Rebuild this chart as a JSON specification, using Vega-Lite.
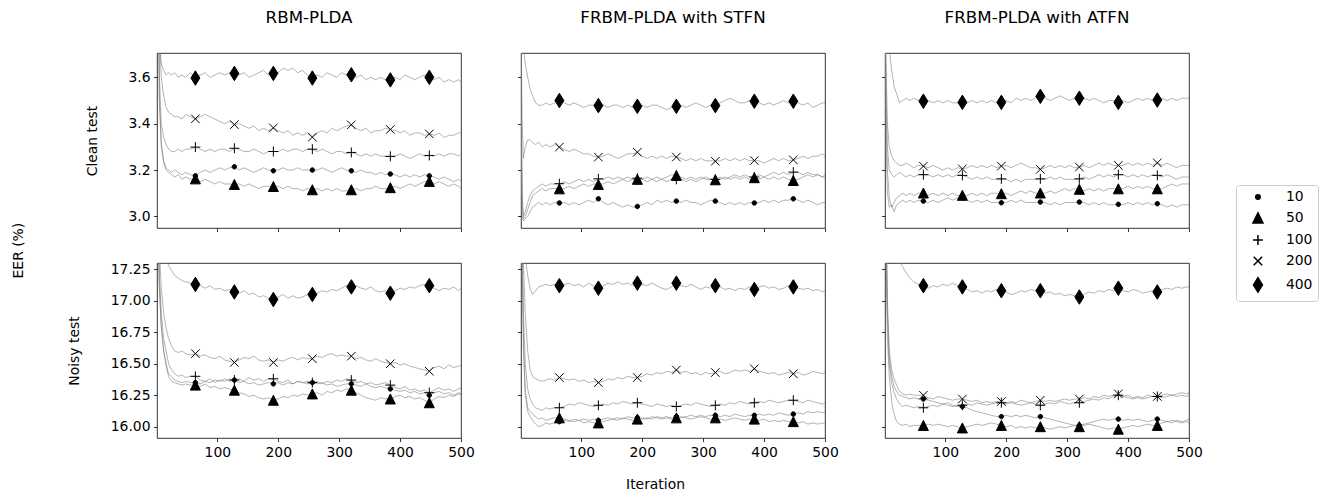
{
  "$schema": "https://vega.github.io/schema/vega-lite/v6.json",
  "background": "white",
  "padding": {"left": 11, "top": 9, "right": 5, "bottom": 2},
  "title": {"text": "EER (%)", "orient": "left", "anchor": "middle", "frame": "bounds", "fontSize": 13.9, "offset": 30, "baseline": "alphabetic"},
  "datasets": {
    "d": [
      {"p": "A",
       "i": [1,3,5,8,12,16,20,25,30,36,42,48,56,64,72,80,88,96,104,112,120,128,136,144,152,160,168,176,184,192,200,208,216,224,232,240,248,256,264,272,280,288,296,304,312,320,328,336,344,352,360,368,376,384,392,400,408,416,424,432,440,448,456,464,472,480,488,496,500],
       "400": [4.5,4.0,3.75,3.66,3.63,3.61,3.62,3.61,3.62,3.6,3.61,3.6,3.62, 3.597, 3.61,3.62,3.6,3.61,3.62,3.61,3.62, 3.617, 3.61,3.62,3.6,3.61,3.62,3.63,3.61, 3.617, 3.62,3.64,3.63,3.64,3.62,3.63,3.61, 3.597, 3.61,3.6,3.62,3.61,3.6,3.62,3.61, 3.611, 3.6,3.61,3.59,3.6,3.59,3.6,3.59, 3.589, 3.6,3.59,3.61,3.6,3.59,3.6,3.61, 3.6, 3.59,3.6,3.58,3.59,3.58,3.59,3.58],
       "200": [5.0,4.2,3.8,3.6,3.52,3.47,3.45,3.44,3.43,3.43,3.42,3.44,3.43, 3.421, 3.43,3.44,3.43,3.42,3.41,3.4,3.41, 3.396, 3.4,3.39,3.38,3.39,3.37,3.38,3.37, 3.382, 3.37,3.36,3.37,3.35,3.36,3.35,3.36, 3.342, 3.36,3.37,3.36,3.38,3.37,3.38,3.39, 3.395, 3.38,3.37,3.38,3.36,3.37,3.37,3.38, 3.375, 3.37,3.36,3.37,3.35,3.36,3.36,3.35, 3.356, 3.35,3.36,3.34,3.35,3.35,3.36,3.36],
       "100": [5.0,4.0,3.6,3.4,3.34,3.31,3.29,3.28,3.28,3.29,3.28,3.29,3.29, 3.299, 3.29,3.28,3.29,3.28,3.29,3.29,3.28, 3.294, 3.29,3.28,3.28,3.29,3.28,3.27,3.28, 3.28, 3.28,3.29,3.28,3.29,3.29,3.28,3.29, 3.29, 3.28,3.29,3.28,3.27,3.28,3.28,3.27, 3.276, 3.27,3.26,3.27,3.26,3.27,3.26,3.26, 3.259, 3.26,3.27,3.26,3.25,3.26,3.27,3.26, 3.263, 3.26,3.27,3.26,3.27,3.27,3.26,3.27],
       "10": [5.0,4.0,3.5,3.32,3.24,3.21,3.2,3.19,3.2,3.19,3.18,3.19,3.18, 3.175, 3.19,3.2,3.19,3.2,3.21,3.2,3.21, 3.214, 3.2,3.21,3.2,3.19,3.2,3.21,3.2, 3.197, 3.2,3.21,3.2,3.2,3.21,3.2,3.2, 3.2, 3.2,3.21,3.2,3.19,3.2,3.21,3.2, 3.197, 3.19,3.2,3.19,3.19,3.18,3.19,3.18, 3.183, 3.18,3.17,3.18,3.17,3.18,3.17,3.18, 3.175, 3.17,3.16,3.17,3.16,3.15,3.16,3.15],
       "50": [5.0,4.0,3.5,3.3,3.23,3.2,3.19,3.18,3.17,3.18,3.16,3.17,3.16, 3.162, 3.15,3.16,3.15,3.14,3.15,3.14,3.14, 3.138, 3.14,3.13,3.14,3.13,3.12,3.13,3.13, 3.129, 3.13,3.12,3.13,3.12,3.12,3.11,3.12, 3.115, 3.12,3.11,3.12,3.11,3.12,3.11,3.11, 3.115, 3.12,3.11,3.12,3.12,3.13,3.12,3.12, 3.124, 3.13,3.12,3.13,3.14,3.13,3.14,3.15, 3.151, 3.14,3.15,3.14,3.13,3.14,3.13,3.12]},
      {"p": "B",
       "i": [1,3,5,8,12,16,20,25,30,36,42,48,56,64,72,80,88,96,104,112,120,128,136,144,152,160,168,176,184,192,200,208,216,224,232,240,248,256,264,272,280,288,296,304,312,320,328,336,344,352,360,368,376,384,392,400,408,416,424,432,440,448,456,464,472,480,488,496,500],
       "400": [3.9,3.8,3.72,3.66,3.6,3.55,3.52,3.49,3.48,3.48,3.49,3.48,3.49, 3.5, 3.49,3.48,3.49,3.48,3.47,3.48,3.48, 3.478, 3.48,3.47,3.48,3.48,3.47,3.48,3.47, 3.475, 3.48,3.47,3.48,3.48,3.47,3.46,3.47, 3.475, 3.48,3.47,3.48,3.49,3.48,3.47,3.48, 3.478, 3.49,3.5,3.51,3.5,3.49,3.49,3.5, 3.497, 3.49,3.48,3.49,3.48,3.49,3.5,3.49, 3.497, 3.49,3.48,3.49,3.47,3.48,3.49,3.49],
       "200": [3.8,3.4,3.25,3.3,3.33,3.33,3.32,3.31,3.32,3.3,3.31,3.3,3.31, 3.299, 3.29,3.28,3.29,3.28,3.27,3.27,3.26, 3.256, 3.26,3.27,3.26,3.25,3.26,3.27,3.27, 3.277, 3.26,3.25,3.26,3.25,3.26,3.25,3.26, 3.256, 3.25,3.24,3.25,3.24,3.25,3.24,3.24, 3.238, 3.24,3.25,3.24,3.25,3.24,3.25,3.24, 3.241, 3.24,3.23,3.24,3.25,3.24,3.25,3.24, 3.244, 3.25,3.26,3.25,3.26,3.26,3.27,3.26],
       "100": [3.6,3.1,3.0,3.02,3.06,3.09,3.11,3.12,3.13,3.14,3.13,3.14,3.14, 3.141, 3.15,3.14,3.15,3.16,3.15,3.16,3.15, 3.162, 3.16,3.17,3.16,3.17,3.16,3.17,3.16, 3.165, 3.16,3.15,3.16,3.15,3.16,3.15,3.16, 3.16, 3.16,3.15,3.16,3.15,3.16,3.17,3.16, 3.16, 3.17,3.16,3.17,3.18,3.17,3.18,3.17, 3.17, 3.18,3.17,3.18,3.19,3.18,3.19,3.18, 3.191, 3.19,3.18,3.19,3.18,3.18,3.17,3.18],
       "50": [3.5,3.05,2.99,3.0,3.03,3.06,3.09,3.1,3.11,3.12,3.11,3.12,3.12, 3.119, 3.12,3.13,3.12,3.13,3.14,3.13,3.14, 3.138, 3.14,3.15,3.14,3.15,3.16,3.15,3.16, 3.16, 3.16,3.17,3.16,3.17,3.16,3.17,3.18, 3.177, 3.17,3.16,3.17,3.16,3.17,3.16,3.16, 3.158, 3.16,3.17,3.16,3.17,3.16,3.17,3.16, 3.167, 3.16,3.17,3.16,3.17,3.16,3.17,3.16, 3.155, 3.16,3.17,3.18,3.17,3.18,3.17,3.17],
       "10": [3.4,3.0,2.98,2.99,3.0,3.02,3.04,3.05,3.06,3.05,3.06,3.05,3.06, 3.058, 3.06,3.05,3.06,3.05,3.06,3.07,3.06, 3.076, 3.06,3.05,3.06,3.05,3.04,3.05,3.04, 3.043, 3.05,3.06,3.05,3.07,3.06,3.07,3.06, 3.066, 3.06,3.07,3.06,3.06,3.05,3.06,3.07, 3.066, 3.06,3.05,3.06,3.05,3.06,3.05,3.06, 3.058, 3.06,3.07,3.06,3.07,3.06,3.07,3.07, 3.076, 3.07,3.06,3.07,3.06,3.05,3.06,3.06]},
      {"p": "C",
       "i": [1,3,5,8,12,16,20,25,30,36,42,48,56,64,72,80,88,96,104,112,120,128,136,144,152,160,168,176,184,192,200,208,216,224,232,240,248,256,264,272,280,288,296,304,312,320,328,336,344,352,360,368,376,384,392,400,408,416,424,432,440,448,456,464,472,480,488,496,500],
       "400": [4.2,3.9,3.8,3.72,3.63,3.56,3.53,3.49,3.5,3.51,3.5,3.51,3.5, 3.497, 3.5,3.49,3.5,3.49,3.5,3.49,3.49, 3.492, 3.49,3.5,3.49,3.5,3.49,3.5,3.49, 3.492, 3.5,3.49,3.51,3.5,3.51,3.5,3.51, 3.518, 3.51,3.5,3.51,3.52,3.51,3.5,3.51, 3.51, 3.51,3.5,3.51,3.5,3.49,3.5,3.5, 3.492, 3.5,3.49,3.5,3.51,3.5,3.51,3.5, 3.502, 3.51,3.5,3.51,3.5,3.51,3.51,3.51],
       "200": [4.0,3.6,3.4,3.3,3.26,3.24,3.23,3.22,3.22,3.23,3.22,3.21,3.22, 3.217, 3.21,3.22,3.21,3.2,3.21,3.2,3.21, 3.205, 3.21,3.22,3.21,3.22,3.21,3.22,3.21, 3.217, 3.22,3.21,3.22,3.23,3.22,3.21,3.21, 3.203, 3.21,3.22,3.21,3.22,3.21,3.22,3.21, 3.213, 3.22,3.21,3.22,3.23,3.22,3.23,3.22, 3.22, 3.22,3.23,3.22,3.23,3.22,3.23,3.22, 3.231, 3.22,3.23,3.22,3.21,3.22,3.22,3.22],
       "100": [4.0,3.5,3.3,3.2,3.18,3.17,3.18,3.19,3.18,3.17,3.18,3.17,3.18, 3.18, 3.18,3.17,3.18,3.17,3.18,3.17,3.18, 3.177, 3.17,3.16,3.17,3.16,3.17,3.16,3.16, 3.162, 3.16,3.15,3.16,3.15,3.16,3.16,3.16, 3.162, 3.16,3.17,3.16,3.17,3.16,3.16,3.16, 3.162, 3.17,3.16,3.17,3.18,3.17,3.18,3.17, 3.18, 3.18,3.17,3.18,3.17,3.18,3.17,3.18, 3.177, 3.17,3.18,3.17,3.16,3.17,3.17,3.17],
       "50": [3.9,3.4,3.2,3.08,3.04,3.06,3.08,3.09,3.1,3.09,3.1,3.09,3.1, 3.101, 3.09,3.1,3.09,3.1,3.09,3.1,3.09, 3.091, 3.09,3.1,3.09,3.1,3.09,3.1,3.1, 3.098, 3.1,3.09,3.1,3.11,3.1,3.11,3.1, 3.101, 3.1,3.11,3.1,3.11,3.12,3.11,3.12, 3.117, 3.11,3.12,3.11,3.12,3.11,3.12,3.12, 3.119, 3.12,3.13,3.12,3.13,3.12,3.13,3.12, 3.119, 3.12,3.13,3.14,3.13,3.14,3.14,3.14],
       "10": [3.9,3.3,3.1,3.04,3.05,3.02,3.05,3.06,3.07,3.06,3.07,3.06,3.07, 3.066, 3.06,3.07,3.06,3.07,3.08,3.07,3.08, 3.081, 3.07,3.06,3.07,3.06,3.07,3.06,3.06, 3.059, 3.06,3.07,3.06,3.07,3.06,3.06,3.06, 3.062, 3.06,3.05,3.06,3.05,3.06,3.06,3.06, 3.062, 3.06,3.05,3.06,3.05,3.06,3.05,3.05, 3.052, 3.05,3.06,3.05,3.06,3.05,3.06,3.05, 3.055, 3.05,3.04,3.05,3.04,3.05,3.05,3.05]},
      {"p": "D",
       "i": [1,3,5,8,12,16,20,25,30,36,42,48,56,64,72,80,88,96,104,112,120,128,136,144,152,160,168,176,184,192,200,208,216,224,232,240,248,256,264,272,280,288,296,304,312,320,328,336,344,352,360,368,376,384,392,400,408,416,424,432,440,448,456,464,472,480,488,496,500],
       "400": [18.5,18.0,17.7,17.5,17.4,17.33,17.28,17.24,17.2,17.18,17.16,17.15,17.14, 17.13, 17.12,17.1,17.12,17.09,17.1,17.08,17.09, 17.07, 17.06,17.08,17.05,17.06,17.03,17.04,17.02, 17.01, 17.03,17.05,17.02,17.04,17.02,17.03,17.05, 17.05, 17.06,17.08,17.07,17.09,17.08,17.1,17.12, 17.11, 17.12,17.1,17.09,17.11,17.08,17.07,17.08, 17.06, 17.08,17.1,17.09,17.11,17.1,17.12,17.13, 17.12, 17.1,17.08,17.1,17.09,17.11,17.08,17.1],
       "200": [18.5,17.8,17.4,17.1,16.9,16.78,16.7,16.64,16.6,16.59,16.6,16.58,16.57, 16.58, 16.56,16.57,16.55,16.54,16.56,16.53,16.52, 16.51, 16.53,16.55,16.54,16.56,16.53,16.52,16.53, 16.51, 16.53,16.52,16.54,16.55,16.53,16.55,16.54, 16.54, 16.56,16.55,16.57,16.58,16.56,16.57,16.56, 16.56, 16.54,16.55,16.53,16.52,16.54,16.52,16.51, 16.5, 16.51,16.49,16.5,16.48,16.47,16.46,16.45, 16.44, 16.47,16.48,16.46,16.49,16.47,16.48,16.49],
       "100": [18.5,17.6,17.2,16.9,16.7,16.6,16.5,16.45,16.42,16.4,16.41,16.39,16.4, 16.4, 16.37,16.36,16.38,16.35,16.37,16.36,16.38, 16.37, 16.38,16.36,16.39,16.37,16.38,16.36,16.38, 16.38, 16.36,16.35,16.37,16.34,16.36,16.35,16.36, 16.35, 16.36,16.34,16.36,16.35,16.37,16.36,16.38, 16.37, 16.35,16.36,16.34,16.35,16.33,16.34,16.35, 16.33, 16.31,16.3,16.32,16.29,16.3,16.28,16.29, 16.27, 16.29,16.31,16.29,16.3,16.28,16.3,16.31],
       "10": [18.5,17.5,17.1,16.8,16.6,16.5,16.42,16.4,16.37,16.36,16.35,16.36,16.35, 16.35, 16.34,16.36,16.35,16.37,16.36,16.38,16.36, 16.37, 16.35,16.36,16.34,16.35,16.33,16.34,16.35, 16.34, 16.35,16.33,16.35,16.34,16.36,16.35,16.34, 16.35, 16.34,16.35,16.33,16.34,16.32,16.33,16.34, 16.34, 16.33,16.32,16.34,16.32,16.31,16.32,16.31, 16.3, 16.29,16.28,16.29,16.27,16.28,16.26,16.27, 16.25, 16.27,16.28,16.26,16.27,16.25,16.27,16.26],
       "50": [18.5,17.5,17.1,16.8,16.6,16.48,16.4,16.36,16.35,16.34,16.33,16.34,16.33, 16.33, 16.32,16.34,16.31,16.32,16.3,16.31,16.3, 16.29, 16.27,16.26,16.24,16.25,16.23,16.22,16.23, 16.21, 16.22,16.24,16.23,16.25,16.24,16.26,16.25, 16.26, 16.27,16.25,16.28,16.27,16.29,16.28,16.3, 16.29, 16.27,16.25,16.23,16.22,16.21,16.23,16.22, 16.22, 16.24,16.25,16.23,16.24,16.22,16.23,16.21, 16.19, 16.22,16.24,16.23,16.25,16.24,16.26,16.25]},
      {"p": "E",
       "i": [1,3,5,8,12,16,20,25,30,36,42,48,56,64,72,80,88,96,104,112,120,128,136,144,152,160,168,176,184,192,200,208,216,224,232,240,248,256,264,272,280,288,296,304,312,320,328,336,344,352,360,368,376,384,392,400,408,416,424,432,440,448,456,464,472,480,488,496,500],
       "400": [18.5,18.0,17.6,17.35,17.2,17.1,17.05,17.08,17.11,17.12,17.13,17.12,17.13, 17.12, 17.13,17.14,17.12,17.13,17.11,17.14,17.12, 17.1, 17.12,17.14,17.13,17.15,17.13,17.14,17.12, 17.14, 17.13,17.12,17.14,17.12,17.1,17.09,17.11, 17.14, 17.12,17.11,17.13,17.11,17.09,17.11,17.1, 17.12, 17.11,17.09,17.1,17.08,17.1,17.09,17.11, 17.09, 17.11,17.12,17.1,17.11,17.09,17.1,17.12, 17.11, 17.1,17.09,17.1,17.08,17.09,17.07,17.08],
       "200": [18.5,17.8,17.3,16.9,16.6,16.45,16.4,16.38,16.37,16.36,16.37,16.38,16.37, 16.39, 16.38,16.37,16.38,16.36,16.37,16.35,16.36, 16.35, 16.36,16.38,16.37,16.39,16.38,16.4,16.39, 16.39, 16.4,16.42,16.41,16.43,16.42,16.44,16.43, 16.45, 16.43,16.44,16.42,16.43,16.41,16.43,16.42, 16.43, 16.44,16.42,16.43,16.45,16.44,16.45,16.44, 16.46, 16.44,16.43,16.42,16.43,16.41,16.42,16.43, 16.42, 16.43,16.41,16.42,16.44,16.43,16.42,16.43],
       "100": [18.5,17.5,16.9,16.5,16.3,16.22,16.18,16.15,16.14,16.13,16.15,16.14,16.15, 16.15, 16.16,16.18,16.17,16.19,16.18,16.17,16.16, 16.17, 16.18,16.17,16.19,16.18,16.2,16.19,16.18, 16.19, 16.18,16.17,16.16,16.18,16.17,16.16,16.17, 16.16, 16.17,16.18,16.17,16.19,16.18,16.17,16.16, 16.17, 16.18,16.17,16.19,16.18,16.2,16.19,16.18, 16.19, 16.2,16.19,16.21,16.2,16.19,16.2,16.21, 16.21, 16.2,16.19,16.21,16.2,16.19,16.18,16.19],
       "50": [18.5,17.3,16.7,16.3,16.15,16.12,16.1,16.08,16.06,16.07,16.05,16.06,16.07, 16.07, 16.06,16.05,16.04,16.05,16.03,16.04,16.03, 16.03, 16.04,16.05,16.06,16.05,16.07,16.06,16.05, 16.06, 16.07,16.06,16.08,16.07,16.06,16.07,16.06, 16.07, 16.08,16.07,16.06,16.07,16.08,16.07,16.06, 16.07, 16.06,16.05,16.06,16.07,16.06,16.05,16.06, 16.06, 16.05,16.06,16.04,16.05,16.04,16.05,16.04, 16.04, 16.03,16.04,16.02,16.03,16.02,16.03,16.02],
       "10": [18.5,17.3,16.6,16.25,16.12,16.08,16.05,16.02,16.0,16.01,16.03,16.02,16.03, 16.04, 16.05,16.04,16.06,16.05,16.06,16.05,16.06, 16.05, 16.06,16.07,16.06,16.07,16.06,16.08,16.07, 16.07, 16.06,16.07,16.06,16.08,16.07,16.08,16.07, 16.08, 16.07,16.08,16.09,16.08,16.09,16.08,16.09, 16.09, 16.08,16.09,16.08,16.1,16.09,16.08,16.09, 16.09, 16.1,16.09,16.1,16.09,16.11,16.1,16.09, 16.1, 16.11,16.1,16.12,16.11,16.12,16.11,16.12]},
      {"p": "F",
       "i": [1,3,5,8,12,16,20,25,30,36,42,48,56,64,72,80,88,96,104,112,120,128,136,144,152,160,168,176,184,192,200,208,216,224,232,240,248,256,264,272,280,288,296,304,312,320,328,336,344,352,360,368,376,384,392,400,408,416,424,432,440,448,456,464,472,480,488,496,500],
       "400": [19.0,18.5,18.0,17.7,17.5,17.42,17.36,17.31,17.27,17.22,17.18,17.15,17.13, 17.12, 17.1,17.12,17.11,17.13,17.12,17.14,17.12, 17.11, 17.09,17.07,17.08,17.06,17.08,17.07,17.09, 17.08, 17.07,17.05,17.06,17.08,17.07,17.09,17.08, 17.08, 17.06,17.07,17.05,17.06,17.04,17.05,17.04, 17.03, 17.05,17.07,17.06,17.08,17.07,17.09,17.08, 17.1, 17.08,17.07,17.09,17.08,17.06,17.07,17.08, 17.07, 17.09,17.1,17.09,17.11,17.1,17.11,17.11],
       "200": [18.5,17.6,17.0,16.6,16.45,16.38,16.33,16.28,16.26,16.25,16.26,16.25,16.25, 16.25, 16.23,16.22,16.24,16.23,16.22,16.21,16.22, 16.22, 16.21,16.2,16.21,16.19,16.2,16.19,16.2, 16.2, 16.19,16.2,16.19,16.21,16.2,16.19,16.2, 16.21, 16.2,16.21,16.2,16.21,16.22,16.21,16.22, 16.22, 16.23,16.22,16.24,16.23,16.25,16.24,16.25, 16.26, 16.24,16.25,16.23,16.24,16.23,16.25,16.24, 16.24, 16.25,16.26,16.25,16.26,16.27,16.26,16.27],
       "100": [18.5,17.5,16.9,16.5,16.35,16.27,16.22,16.18,16.16,16.17,16.16,16.15,16.16, 16.15, 16.16,16.17,16.16,16.18,16.17,16.16,16.17, 16.17, 16.18,16.17,16.19,16.18,16.17,16.18,16.19, 16.19, 16.18,16.19,16.18,16.17,16.18,16.19,16.18, 16.17, 16.18,16.19,16.18,16.2,16.19,16.18,16.19, 16.19, 16.2,16.21,16.22,16.21,16.23,16.22,16.24, 16.25, 16.24,16.23,16.22,16.23,16.22,16.23,16.24, 16.24, 16.23,16.24,16.25,16.24,16.25,16.24,16.25],
       "10": [18.5,17.5,16.9,16.55,16.4,16.32,16.28,16.25,16.24,16.23,16.22,16.23,16.22, 16.22, 16.21,16.2,16.19,16.18,16.19,16.17,16.16, 16.16, 16.15,16.13,16.12,16.11,16.1,16.09,16.08, 16.08, 16.09,16.08,16.09,16.08,16.09,16.08,16.07, 16.08, 16.07,16.06,16.05,16.04,16.03,16.02,16.01, 16.01, 16.02,16.03,16.04,16.05,16.06,16.05,16.06, 16.06, 16.05,16.06,16.05,16.06,16.05,16.04,16.05, 16.06, 16.05,16.04,16.05,16.04,16.03,16.04,16.03],
       "50": [18.5,17.3,16.7,16.4,16.2,16.1,16.04,16.02,16.01,16.02,16.0,16.01,16.01, 16.01, 16.02,16.01,16.02,16.01,16.0,16.01,16.0, 15.99, 16.0,16.01,16.02,16.01,16.02,16.03,16.02, 16.01, 16.0,16.01,15.99,16.0,15.99,16.0,15.99, 16.0, 15.99,15.98,15.99,16.0,15.99,16.0,16.01, 16.0, 16.01,16.02,16.01,16.0,15.99,15.98,15.99, 15.98, 15.99,16.0,16.01,16.0,16.01,16.02,16.01, 16.01, 16.03,16.04,16.03,16.05,16.04,16.05,16.06]}
    ]
  },
  "data": {"name": "d"},
  "columns": 3,
  "spacing": {"row": 35, "column": 60},
  "bounds": "flush",
  "concat": [
    {
      "width": 304, "height": 175,
      "title": {"text": "RBM-PLDA"},
      "transform": [{"filter": "datum.p === 'A'"}, {"flatten": ["i","10","50","100","200","400"]}, {"fold": ["10","50","100","200","400"], "as": ["n","v"]}],
      "encoding": {
        "x": {"field": "i", "type": "quantitative", "scale": {"domain": [1,500], "nice": false, "zero": false}, "axis": {"values": [100,200,300,400,500], "labels": false, "title": null}},
        "y": {"field": "v", "type": "quantitative", "scale": {"domain": [2.95,3.705], "nice": false, "zero": false}, "axis": {"values": [3.0,3.2,3.4,3.6], "format": ".1f", "title": "Clean test", "titleX": -65, "titleY": 87.5, "titleAngle": 270, "titleBaseline": "middle", "titleAlign": "center"}}
      },
      "layer": [
        {"mark": {"type": "line", "clip": true, "color": "#808080", "strokeWidth": 0.6}, "encoding": {"detail": {"field": "n"}}},
        {"transform": [{"filter": {"field": "i", "oneOf": [64,128,192,256,320,384,448]}}],
         "mark": {"type": "point", "filled": true, "color": "black", "stroke": "black", "strokeWidth": 1, "size": 100, "opacity": 1, "clip": true},
         "encoding": {"shape": {"field": "n", "type": "nominal", "scale": {"domain": ["10","50","100","200","400"], "range": ["M0.45,0A0.45,0.45,0,1,1,-0.45,0A0.45,0.45,0,1,1,0.45,0Z","M0,-1L1,1L-1,1Z","M-1,0L1,0M0,-1L0,1","M-0.85,-0.85L0.85,0.85M-0.85,0.85L0.85,-0.85","M0,-1.45L0.9,0L0,1.45L-0.9,0Z"]},
           "legend": {"title": null, "orient": "none", "legendX": 1079, "legendY": 132, "symbolSize": 100, "labelFontSize": 13.9, "labelFont": "DejaVu Sans", "labelColor": "black", "padding": 5, "symbolOffset": 10, "labelOffset": 21, "rowPadding": 5, "strokeColor": "#cccccc", "fillColor": "white", "cornerRadius": 3,
             "encode": {"symbols": {"update": {"fill": {"value": "black"}, "stroke": {"value": "black"}, "strokeWidth": {"value": 1}, "opacity": {"value": 1}}}}}}}}
      ]
    },
    {
      "width": 304, "height": 175,
      "title": {"text": "FRBM-PLDA with STFN"},
      "transform": [{"filter": "datum.p === 'B'"}, {"flatten": ["i","10","50","100","200","400"]}, {"fold": ["10","50","100","200","400"], "as": ["n","v"]}],
      "encoding": {
        "x": {"field": "i", "type": "quantitative", "scale": {"domain": [1,500], "nice": false, "zero": false}, "axis": {"values": [100,200,300,400,500], "labels": false, "title": null}},
        "y": {"field": "v", "type": "quantitative", "scale": {"domain": [2.95,3.705], "nice": false, "zero": false}, "axis": {"values": [3.0,3.2,3.4,3.6], "labels": false, "title": null}}
      },
      "layer": [
        {"mark": {"type": "line", "clip": true, "color": "#808080", "strokeWidth": 0.6}, "encoding": {"detail": {"field": "n"}}},
        {"transform": [{"filter": {"field": "i", "oneOf": [64,128,192,256,320,384,448]}}],
         "mark": {"type": "point", "filled": true, "color": "black", "stroke": "black", "strokeWidth": 1, "size": 100, "opacity": 1, "clip": true},
         "encoding": {"shape": {"field": "n", "type": "nominal", "scale": {"domain": ["10","50","100","200","400"], "range": ["M0.45,0A0.45,0.45,0,1,1,-0.45,0A0.45,0.45,0,1,1,0.45,0Z","M0,-1L1,1L-1,1Z","M-1,0L1,0M0,-1L0,1","M-0.85,-0.85L0.85,0.85M-0.85,0.85L0.85,-0.85","M0,-1.45L0.9,0L0,1.45L-0.9,0Z"]},
           "legend": {"title": null, "orient": "none", "legendX": 1079, "legendY": 132, "symbolSize": 100, "labelFontSize": 13.9, "labelFont": "DejaVu Sans", "labelColor": "black", "padding": 5, "symbolOffset": 10, "labelOffset": 21, "rowPadding": 5, "strokeColor": "#cccccc", "fillColor": "white", "cornerRadius": 3,
             "encode": {"symbols": {"update": {"fill": {"value": "black"}, "stroke": {"value": "black"}, "strokeWidth": {"value": 1}, "opacity": {"value": 1}}}}}}}}
      ]
    },
    {
      "width": 304, "height": 175,
      "title": {"text": "FRBM-PLDA with ATFN"},
      "transform": [{"filter": "datum.p === 'C'"}, {"flatten": ["i","10","50","100","200","400"]}, {"fold": ["10","50","100","200","400"], "as": ["n","v"]}],
      "encoding": {
        "x": {"field": "i", "type": "quantitative", "scale": {"domain": [1,500], "nice": false, "zero": false}, "axis": {"values": [100,200,300,400,500], "labels": false, "title": null}},
        "y": {"field": "v", "type": "quantitative", "scale": {"domain": [2.95,3.705], "nice": false, "zero": false}, "axis": {"values": [3.0,3.2,3.4,3.6], "labels": false, "title": null}}
      },
      "layer": [
        {"mark": {"type": "line", "clip": true, "color": "#808080", "strokeWidth": 0.6}, "encoding": {"detail": {"field": "n"}}},
        {"transform": [{"filter": {"field": "i", "oneOf": [64,128,192,256,320,384,448]}}],
         "mark": {"type": "point", "filled": true, "color": "black", "stroke": "black", "strokeWidth": 1, "size": 100, "opacity": 1, "clip": true},
         "encoding": {"shape": {"field": "n", "type": "nominal", "scale": {"domain": ["10","50","100","200","400"], "range": ["M0.45,0A0.45,0.45,0,1,1,-0.45,0A0.45,0.45,0,1,1,0.45,0Z","M0,-1L1,1L-1,1Z","M-1,0L1,0M0,-1L0,1","M-0.85,-0.85L0.85,0.85M-0.85,0.85L0.85,-0.85","M0,-1.45L0.9,0L0,1.45L-0.9,0Z"]},
           "legend": {"title": null, "orient": "none", "legendX": 1079, "legendY": 132, "symbolSize": 100, "labelFontSize": 13.9, "labelFont": "DejaVu Sans", "labelColor": "black", "padding": 5, "symbolOffset": 10, "labelOffset": 21, "rowPadding": 5, "strokeColor": "#cccccc", "fillColor": "white", "cornerRadius": 3,
             "encode": {"symbols": {"update": {"fill": {"value": "black"}, "stroke": {"value": "black"}, "strokeWidth": {"value": 1}, "opacity": {"value": 1}}}}}}}}
      ]
    },
    {
      "width": 304, "height": 175,
      "transform": [{"filter": "datum.p === 'D'"}, {"flatten": ["i","10","50","100","200","400"]}, {"fold": ["10","50","100","200","400"], "as": ["n","v"]}],
      "encoding": {
        "x": {"field": "i", "type": "quantitative", "scale": {"domain": [1,500], "nice": false, "zero": false}, "axis": {"values": [100,200,300,400,500], "title": null}},
        "y": {"field": "v", "type": "quantitative", "scale": {"domain": [15.91,17.3], "nice": false, "zero": false}, "axis": {"values": [16.0,16.25,16.5,16.75,17.0,17.25], "format": ".2f", "title": "Noisy test", "titleX": -83, "titleY": 87.5, "titleAngle": 270, "titleBaseline": "middle", "titleAlign": "center"}}
      },
      "layer": [
        {"mark": {"type": "line", "clip": true, "color": "#808080", "strokeWidth": 0.6}, "encoding": {"detail": {"field": "n"}}},
        {"transform": [{"filter": {"field": "i", "oneOf": [64,128,192,256,320,384,448]}}],
         "mark": {"type": "point", "filled": true, "color": "black", "stroke": "black", "strokeWidth": 1, "size": 100, "opacity": 1, "clip": true},
         "encoding": {"shape": {"field": "n", "type": "nominal", "scale": {"domain": ["10","50","100","200","400"], "range": ["M0.45,0A0.45,0.45,0,1,1,-0.45,0A0.45,0.45,0,1,1,0.45,0Z","M0,-1L1,1L-1,1Z","M-1,0L1,0M0,-1L0,1","M-0.85,-0.85L0.85,0.85M-0.85,0.85L0.85,-0.85","M0,-1.45L0.9,0L0,1.45L-0.9,0Z"]},
           "legend": {"title": null, "orient": "none", "legendX": 1079, "legendY": 132, "symbolSize": 100, "labelFontSize": 13.9, "labelFont": "DejaVu Sans", "labelColor": "black", "padding": 5, "symbolOffset": 10, "labelOffset": 21, "rowPadding": 5, "strokeColor": "#cccccc", "fillColor": "white", "cornerRadius": 3,
             "encode": {"symbols": {"update": {"fill": {"value": "black"}, "stroke": {"value": "black"}, "strokeWidth": {"value": 1}, "opacity": {"value": 1}}}}}}}}
      ]
    },
    {
      "width": 304, "height": 175,
      "transform": [{"filter": "datum.p === 'E'"}, {"flatten": ["i","10","50","100","200","400"]}, {"fold": ["10","50","100","200","400"], "as": ["n","v"]}],
      "encoding": {
        "x": {"field": "i", "type": "quantitative", "scale": {"domain": [1,500], "nice": false, "zero": false}, "axis": {"values": [100,200,300,400,500], "title": "Iteration", "titleX": 134, "titleY": 50, "titleBaseline": "alphabetic", "titleAlign": "center"}},
        "y": {"field": "v", "type": "quantitative", "scale": {"domain": [15.91,17.3], "nice": false, "zero": false}, "axis": {"values": [16.0,16.25,16.5,16.75,17.0,17.25], "labels": false, "title": null}}
      },
      "layer": [
        {"mark": {"type": "line", "clip": true, "color": "#808080", "strokeWidth": 0.6}, "encoding": {"detail": {"field": "n"}}},
        {"transform": [{"filter": {"field": "i", "oneOf": [64,128,192,256,320,384,448]}}],
         "mark": {"type": "point", "filled": true, "color": "black", "stroke": "black", "strokeWidth": 1, "size": 100, "opacity": 1, "clip": true},
         "encoding": {"shape": {"field": "n", "type": "nominal", "scale": {"domain": ["10","50","100","200","400"], "range": ["M0.45,0A0.45,0.45,0,1,1,-0.45,0A0.45,0.45,0,1,1,0.45,0Z","M0,-1L1,1L-1,1Z","M-1,0L1,0M0,-1L0,1","M-0.85,-0.85L0.85,0.85M-0.85,0.85L0.85,-0.85","M0,-1.45L0.9,0L0,1.45L-0.9,0Z"]},
           "legend": {"title": null, "orient": "none", "legendX": 1079, "legendY": 132, "symbolSize": 100, "labelFontSize": 13.9, "labelFont": "DejaVu Sans", "labelColor": "black", "padding": 5, "symbolOffset": 10, "labelOffset": 21, "rowPadding": 5, "strokeColor": "#cccccc", "fillColor": "white", "cornerRadius": 3,
             "encode": {"symbols": {"update": {"fill": {"value": "black"}, "stroke": {"value": "black"}, "strokeWidth": {"value": 1}, "opacity": {"value": 1}}}}}}}}
      ]
    },
    {
      "width": 304, "height": 175,
      "transform": [{"filter": "datum.p === 'F'"}, {"flatten": ["i","10","50","100","200","400"]}, {"fold": ["10","50","100","200","400"], "as": ["n","v"]}],
      "encoding": {
        "x": {"field": "i", "type": "quantitative", "scale": {"domain": [1,500], "nice": false, "zero": false}, "axis": {"values": [100,200,300,400,500], "title": null}},
        "y": {"field": "v", "type": "quantitative", "scale": {"domain": [15.91,17.3], "nice": false, "zero": false}, "axis": {"values": [16.0,16.25,16.5,16.75,17.0,17.25], "labels": false, "title": null}}
      },
      "layer": [
        {"mark": {"type": "line", "clip": true, "color": "#808080", "strokeWidth": 0.6}, "encoding": {"detail": {"field": "n"}}},
        {"transform": [{"filter": {"field": "i", "oneOf": [64,128,192,256,320,384,448]}}],
         "mark": {"type": "point", "filled": true, "color": "black", "stroke": "black", "strokeWidth": 1, "size": 100, "opacity": 1, "clip": true},
         "encoding": {"shape": {"field": "n", "type": "nominal", "scale": {"domain": ["10","50","100","200","400"], "range": ["M0.45,0A0.45,0.45,0,1,1,-0.45,0A0.45,0.45,0,1,1,0.45,0Z","M0,-1L1,1L-1,1Z","M-1,0L1,0M0,-1L0,1","M-0.85,-0.85L0.85,0.85M-0.85,0.85L0.85,-0.85","M0,-1.45L0.9,0L0,1.45L-0.9,0Z"]},
           "legend": {"title": null, "orient": "none", "legendX": 1079, "legendY": 132, "symbolSize": 100, "labelFontSize": 13.9, "labelFont": "DejaVu Sans", "labelColor": "black", "padding": 5, "symbolOffset": 10, "labelOffset": 21, "rowPadding": 5, "strokeColor": "#cccccc", "fillColor": "white", "cornerRadius": 3,
             "encode": {"symbols": {"update": {"fill": {"value": "black"}, "stroke": {"value": "black"}, "strokeWidth": {"value": 1}, "opacity": {"value": 1}}}}}}}}
      ]
    }
  ],
  "config": {
    "font": "DejaVu Sans",
    "view": {"stroke": "black", "strokeWidth": 0.8},
    "axis": {"domain": false, "grid": false, "ticks": true, "tickSize": 3.5, "tickWidth": 0.8, "tickColor": "black", "labelFont": "DejaVu Sans", "labelFontSize": 13.9, "labelColor": "black", "labelPadding": 3.5, "labelFlush": false, "labelOverlap": false, "titleFont": "DejaVu Sans", "titleFontSize": 13.9, "titleFontWeight": "normal", "titleColor": "black"},
    "title": {"font": "DejaVu Sans", "fontSize": 16.7, "fontWeight": "normal", "color": "black", "offset": 26, "baseline": "alphabetic"}
  }
}
